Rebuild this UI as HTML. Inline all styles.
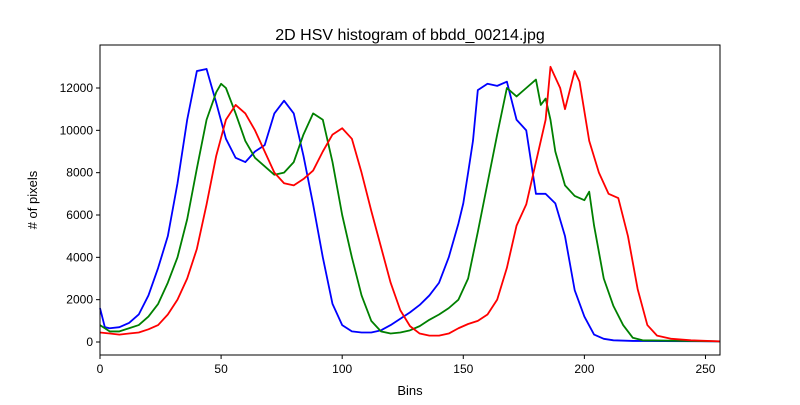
<!DOCTYPE html>
<html><head><meta charset="utf-8"><style>body{margin:0;background:#fff}svg{font-family:"Liberation Sans","DejaVu Sans",sans-serif}</style></head>
<body>
<svg id="chart" width="800" height="400">
<rect width="800" height="400" fill="#fff"/>
<text x="410" y="40" text-anchor="middle" font-size="16">2D HSV histogram of bbdd_00214.jpg</text>
<text x="410" y="395" text-anchor="middle" font-size="13">Bins</text>
<text x="37" y="200" text-anchor="middle" font-size="13" transform="rotate(-90 37 200)"># of pixels</text>
<g id="plot"></g>
</svg>
<script>
const xTicks=[0,50,100,150,200,250];
const yTicks=[0,2000,4000,6000,8000,10000,12000];
const blueBins=[0,2,4,8,12,16,20,24,28,32,36,40,44,48,52,56,60,64,68,72,76,80,84,88,92,96,100,104,108,112,116,120,124,128,132,136,140,144,148,150,152,154,156,160,164,168,172,176,180,184,188,192,196,200,204,208,212,220,256];
const blueVals=[1600,700,650,700,900,1300,2200,3500,5000,7500,10500,12800,12900,11300,9600,8700,8500,9000,9300,10800,11400,10800,8800,6500,4000,1800,800,500,450,450,550,800,1100,1400,1750,2200,2800,4000,5600,6550,8000,9500,11900,12200,12100,12300,10500,10000,7000,7000,6550,5000,2450,1200,350,150,80,50,30];
const greenBins=[0,4,8,12,16,20,24,28,32,36,40,44,48,50,52,56,60,64,68,72,76,80,84,88,92,96,100,104,108,112,116,120,124,128,132,136,140,144,148,152,156,160,164,168,172,176,180,182,184,186,188,192,196,200,202,204,208,212,216,220,224,256];
const greenVals=[800,500,500,650,800,1200,1800,2800,4000,5800,8200,10500,11800,12200,12000,10800,9500,8700,8300,7900,8000,8500,9800,10800,10500,8500,6000,4000,2200,1000,500,400,450,550,750,1050,1300,1600,2000,3000,5200,7500,9800,12000,11600,12000,12400,11200,11500,10500,9000,7400,6900,6700,7100,5500,3000,1700,800,200,80,30];
const redBins=[0,4,8,12,16,20,24,28,32,36,40,44,48,52,56,60,64,68,72,76,80,84,88,92,96,100,104,108,112,116,120,124,128,132,136,140,144,148,152,156,160,164,168,172,176,180,184,186,190,192,196,198,202,206,210,214,218,222,226,230,236,244,256];
const redVals=[450,400,350,400,450,600,800,1300,2000,3000,4400,6500,8800,10500,11200,10800,10000,9000,8000,7500,7400,7700,8100,9000,9800,10100,9600,8000,6200,4500,2800,1500,750,400,300,300,400,650,850,1000,1300,2000,3500,5500,6500,8500,10500,13000,12000,11000,12800,12300,9500,8000,7000,6800,5000,2500,800,300,150,80,30];
const L=100,R=720,T=45,B=355;
const xs=v=>L+v*(R-L)/256;
const ys=v=>342-v*(254/12000);
const NS="http://www.w3.org/2000/svg";
const g=document.getElementById('plot');
function mk(t,a){const e=document.createElementNS(NS,t);for(const k in a)e.setAttribute(k,a[k]);g.appendChild(e);return e;}
function series(bins,vals,color,name){
  const e=mk('polyline',{points:bins.map((b,i)=>xs(b)+','+ys(vals[i])).join(' '),fill:'none',stroke:color,'stroke-width':1.8,'stroke-linejoin':'round'});
  
  
}
series(blueBins,blueVals,'#0000ff','blue-channel-line');
series(greenBins,greenVals,'#008000','green-channel-line');
series(redBins,redVals,'#ff0000','red-channel-line');
const fr=mk('rect',{x:L,y:T,width:R-L,height:B-T,fill:'none',stroke:'#000','stroke-width':1});


xTicks.forEach(t=>{
  const x=xs(t);
  const l=mk('line',{x1:x,x2:x,y1:B,y2:B+4,stroke:'#000'});
  
  
  const tx=mk('text',{x:x,y:B+18,'text-anchor':'middle','font-size':12});
  tx.textContent=t;
  
  
});
yTicks.forEach(t=>{
  const y=ys(t);
  const l=mk('line',{x1:L-4,x2:L,y1:y,y2:y,stroke:'#000'});
  
  
  const tx=mk('text',{x:L-7,y:y+4,'text-anchor':'end','font-size':12});
  tx.textContent=t;
  
  
});
</script>
</body></html>
